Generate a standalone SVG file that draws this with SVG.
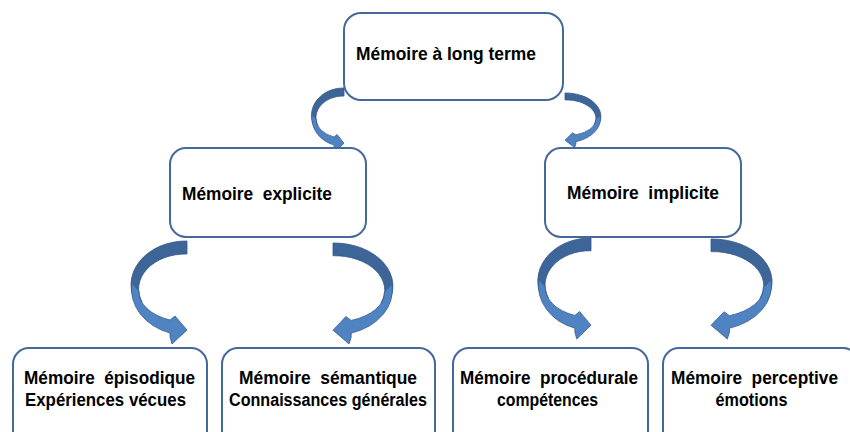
<svg xmlns="http://www.w3.org/2000/svg" xmlns:xlink="http://www.w3.org/1999/xlink" width="850" height="432" viewBox="0 0 850 432">
<style>
.box{fill:#ffffff;stroke:#44689c;stroke-width:2}
.t{font-family:"Liberation Sans",Arial,sans-serif;font-weight:bold;font-size:17.5px;fill:#000;text-anchor:middle;white-space:pre}
.dark{fill:#3d6598;stroke:#34588a;stroke-width:0.8;vector-effect:non-scaling-stroke}
.light{fill:#5083c1;stroke:#3a6090;stroke-width:0.8;vector-effect:non-scaling-stroke}
</style>
<defs>
<g id="carrow">
<path class="dark" d="M0,0 A55 44 0 0 0 -50,64 L-45,61 A47 35 0 0 1 0,13 Z"/>
<path class="light" d="M-55,42 A55 46 0 0 0 -17,92 L-17,96 L-15,103 L0,89 L-12,75 L-17,79 A48 30 0 0 1 -48,50 Z"/>
</g>
</defs>
<rect width="850" height="432" fill="#ffffff"/>
<g id="connectors">
<use xlink:href="#carrow" transform="translate(344,88) scale(0.58,0.62)"/>
<use xlink:href="#carrow" transform="translate(565,93) scale(-0.64,0.53)"/>
<use xlink:href="#carrow" transform="translate(187,241)"/>
<use xlink:href="#carrow" transform="translate(333,243) scale(-1.07,0.98)"/>
<use xlink:href="#carrow" transform="translate(591,238) scale(0.95,0.98)"/>
<use xlink:href="#carrow" transform="translate(711,239) scale(-1.09,0.97)"/>
</g>
<g id="n-long-terme">
<rect class="box" x="344" y="13" width="219" height="87" rx="17"/>
<text class="t" x="446" y="60" textLength="180" lengthAdjust="spacingAndGlyphs" xml:space="preserve">Mémoire à long terme</text>
</g>
<g id="n-explicite">
<rect class="box" x="170" y="148" width="196" height="89" rx="16"/>
<text class="t" x="257" y="200" textLength="150" lengthAdjust="spacingAndGlyphs" xml:space="preserve">Mémoire  explicite</text>
</g>
<g id="n-implicite">
<rect class="box" x="545" y="148" width="196" height="89" rx="16"/>
<text class="t" x="643" y="199" textLength="152" lengthAdjust="spacingAndGlyphs" xml:space="preserve">Mémoire  implicite</text>
</g>
<g id="n-episodique">
<rect class="box" x="13" y="348" width="194" height="100" rx="16"/>
<text class="t" x="109.5" y="384" textLength="171" lengthAdjust="spacingAndGlyphs" xml:space="preserve">Mémoire  épisodique</text>
<text class="t" x="105.5" y="406" textLength="161" lengthAdjust="spacingAndGlyphs" xml:space="preserve">Expériences vécues</text>
</g>
<g id="n-semantique">
<rect class="box" x="222" y="348" width="213" height="100" rx="16"/>
<text class="t" x="328" y="384" textLength="178" lengthAdjust="spacingAndGlyphs" xml:space="preserve">Mémoire  sémantique</text>
<text class="t" x="328" y="406" textLength="198" lengthAdjust="spacingAndGlyphs" xml:space="preserve">Connaissances générales</text>
</g>
<g id="n-procedurale">
<rect class="box" x="453" y="348" width="195" height="100" rx="16"/>
<text class="t" x="549" y="384" textLength="178" lengthAdjust="spacingAndGlyphs" xml:space="preserve">Mémoire  procédurale</text>
<text class="t" x="547.5" y="406" textLength="101" lengthAdjust="spacingAndGlyphs" xml:space="preserve">compétences</text>
</g>
<g id="n-perceptive">
<rect class="box" x="663" y="348" width="196" height="100" rx="16"/>
<text class="t" x="754.5" y="384" textLength="167" lengthAdjust="spacingAndGlyphs" xml:space="preserve">Mémoire  perceptive</text>
<text class="t" x="751.5" y="406" textLength="72" lengthAdjust="spacingAndGlyphs" xml:space="preserve">émotions</text>
</g>
</svg>
